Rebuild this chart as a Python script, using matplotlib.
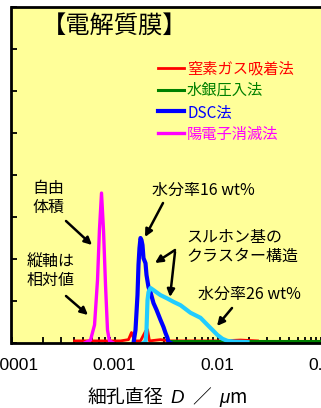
import numpy as np
import matplotlib
matplotlib.use("Agg")
import matplotlib.pyplot as plt
from matplotlib.ticker import FixedLocator, LogLocator, NullFormatter, FixedFormatter

plt.rcParams['font.family'] = ['Noto Sans CJK JP', 'DejaVu Sans']
plt.rcParams['mathtext.fontset'] = 'custom'
plt.rcParams['mathtext.it'] = 'Liberation Sans:italic'
plt.rcParams['mathtext.rm'] = 'Liberation Sans'

# ---------------- data ----------------
legend_labels = ['窒素ガス吸着法', '水銀圧入法', 'DSC法', '陽電子消滅法']
colors = ['#FF0000', '#008000', '#0000FF', '#FF00FF']
cyan_color = '#22CCFF'

# nitrogen adsorption (red)
n2_d = [0.000409, 0.000731, 0.001144, 0.001367, 0.001462, 0.001564, 0.001788,
        0.002000, 0.002091, 0.002186, 0.002796, 0.003497, 0.005466, 0.01069,
        0.01672, 0.02445]
n2_v = [0.05, 0.05, 0.05, 0.08, 0.25, 0.05, 0.05,
        0.28, 0.32, 0.05, 0.08, 0.05, 0.05, 0.05,
        0.07, 0.05]

# mercury intrusion (green)
hg_d = [0.00334, 0.005, 0.01, 0.02, 0.05, 0.1, 0.2, 0.5]
hg_v = [0.05, 0.05, 0.05, 0.05, 0.05, 0.05, 0.05, 0.05]

# DSC, water content 16 wt% (blue)
dsc16_d = [0.001529, 0.001599, 0.001672, 0.001710, 0.001748, 0.001788, 0.001829,
           0.001870, 0.001912, 0.002000, 0.002045, 0.002138, 0.002236, 0.002391,
           0.002557, 0.002796, 0.002990, 0.003127, 0.003270, 0.003344, 0.003497]
dsc16_v = [0.0, 0.31, 1.14, 1.86, 2.26, 2.50, 2.45,
           2.33, 2.02, 1.90, 1.62, 1.33, 1.21, 0.95,
           0.79, 0.55, 0.38, 0.24, 0.12, 0.02, 0.0]

# DSC, water content 26 wt% (cyan)
dsc26_d = [0.001912, 0.002000, 0.002045, 0.002091, 0.002138, 0.002236, 0.002391,
           0.002615, 0.002796, 0.003198, 0.003739, 0.004373, 0.005466, 0.006839,
           0.007994, 0.008944, 0.01, 0.01118, 0.01251, 0.01496, 0.01955]
dsc26_v = [0.0, 0.02, 0.31, 1.02, 1.21, 1.31, 1.26,
           1.19, 1.14, 1.07, 0.98, 0.90, 0.72, 0.60,
           0.43, 0.31, 0.19, 0.10, 0.05, 0.03, 0.02]

# positron annihilation (magenta)
pa_d = [0.000512, 0.000585, 0.000640, 0.000684, 0.000714, 0.000748, 0.000782,
        0.000818, 0.000855, 0.000893, 0.000977]
pa_v = [0.0, 0.07, 0.43, 1.50, 2.69, 3.57, 2.69, 1.38, 0.31, 0.05, 0.0]

xtick_vals = [0.0001, 0.001, 0.01, 0.1]
xtick_labels = ['0.0001', '0.001', '0.01', '0.1']
ytick_vals = [0, 1, 2, 3, 4, 5, 6, 7, 8]

# ---------------- figure ----------------
W, H = 321, 408
fig = plt.figure(figsize=(W / 100, H / 100), dpi=100)
fig.patch.set_facecolor('white')
ax = fig.add_axes([11.5 / W, 65 / H, 412 / W, 336 / H])
ax.set_facecolor('#FFFF99')


def fp(x, y):
    return (x / W, 1 - y / H)


l_n2, = ax.plot(n2_d, n2_v, color=colors[0], lw=2.0, label=legend_labels[0])
l_hg, = ax.plot(hg_d, hg_v, color=colors[1], lw=2.2, label=legend_labels[1])
l_pa, = ax.plot(pa_d, pa_v, color=colors[3], lw=2.4, label=legend_labels[3])
l_d16, = ax.plot(dsc16_d, dsc16_v, color=colors[2], lw=3.0, label=legend_labels[2])
ax.plot(dsc26_d, dsc26_v, color=cyan_color, lw=3.0, label='_nolegend_')

ax.set_xscale('log')
ax.set_xlim(1e-4, 1)
ax.set_ylim(0, 8)
ax.xaxis.set_major_locator(FixedLocator(xtick_vals))
ax.xaxis.set_major_formatter(FixedFormatter(xtick_labels))
ax.xaxis.set_minor_locator(LogLocator(base=10, subs=np.arange(2, 10)))
ax.xaxis.set_minor_formatter(NullFormatter())
ax.set_yticks(ytick_vals)
ax.set_yticklabels([])
ax.tick_params(axis='both', which='both', direction='in', length=4.5, width=1.3,
               top=False, right=False)
ax.tick_params(axis='x', which='major', pad=11)
for lab in ax.get_xticklabels():
    lab.set_fontfamily(['Liberation Sans'])
    lab.set_fontsize(12.5)
for s in ax.spines.values():
    s.set_linewidth(2)

leg = ax.legend(handles=[l_n2, l_hg, l_d16, l_pa], labels=legend_labels,
                loc='upper left', bbox_to_anchor=fp(158, 60),
                bbox_transform=fig.transFigure, frameon=False,
                fontsize=11, handlelength=1.7, handletextpad=0.2,
                borderpad=0, borderaxespad=0, labelspacing=0.32,
                labelcolor='linecolor')

# texts
fig.text(*fp(42, 26), '【電解質膜】', fontsize=17.5, ha='left', va='center')
fs = 11.5
fig.text(*fp(32, 198), '自由\n体積', fontsize=fs, ha='left', va='center', linespacing=1.2)
fig.text(*fp(27, 271), '縦軸は\n相対値', fontsize=fs, ha='left', va='center', linespacing=1.2)
fig.text(*fp(152, 190), '水分率16 wt%', fontsize=fs, ha='left', va='center')
fig.text(*fp(186, 247), 'スルホン基の\nクラスター構造', fontsize=fs, ha='left', va='center',
         linespacing=1.2)
fig.text(*fp(198, 294), '水分率26 wt%', fontsize=fs, ha='left', va='center')

fig.text(*fp(167, 397), '細孔直径  $D$  ／  $\\mu$m', fontsize=13.5, ha='center', va='center')

arrows = [((66, 221), (92, 245)),
          ((66, 296), (88, 315)),
          ((163, 203), (145, 237)),
          ((175, 250), (155, 263)),
          ((175, 252), (170, 297)),
          ((232, 308), (217, 326))]
for tail, head in arrows:
    fig.add_artist(matplotlib.patches.FancyArrowPatch(
        fp(*tail), fp(*head), transform=fig.transFigure,
        arrowstyle='-|>', mutation_scale=11, lw=1.8, color='black',
        shrinkA=0, shrinkB=0))

fig.savefig('out.png', dpi=100)
